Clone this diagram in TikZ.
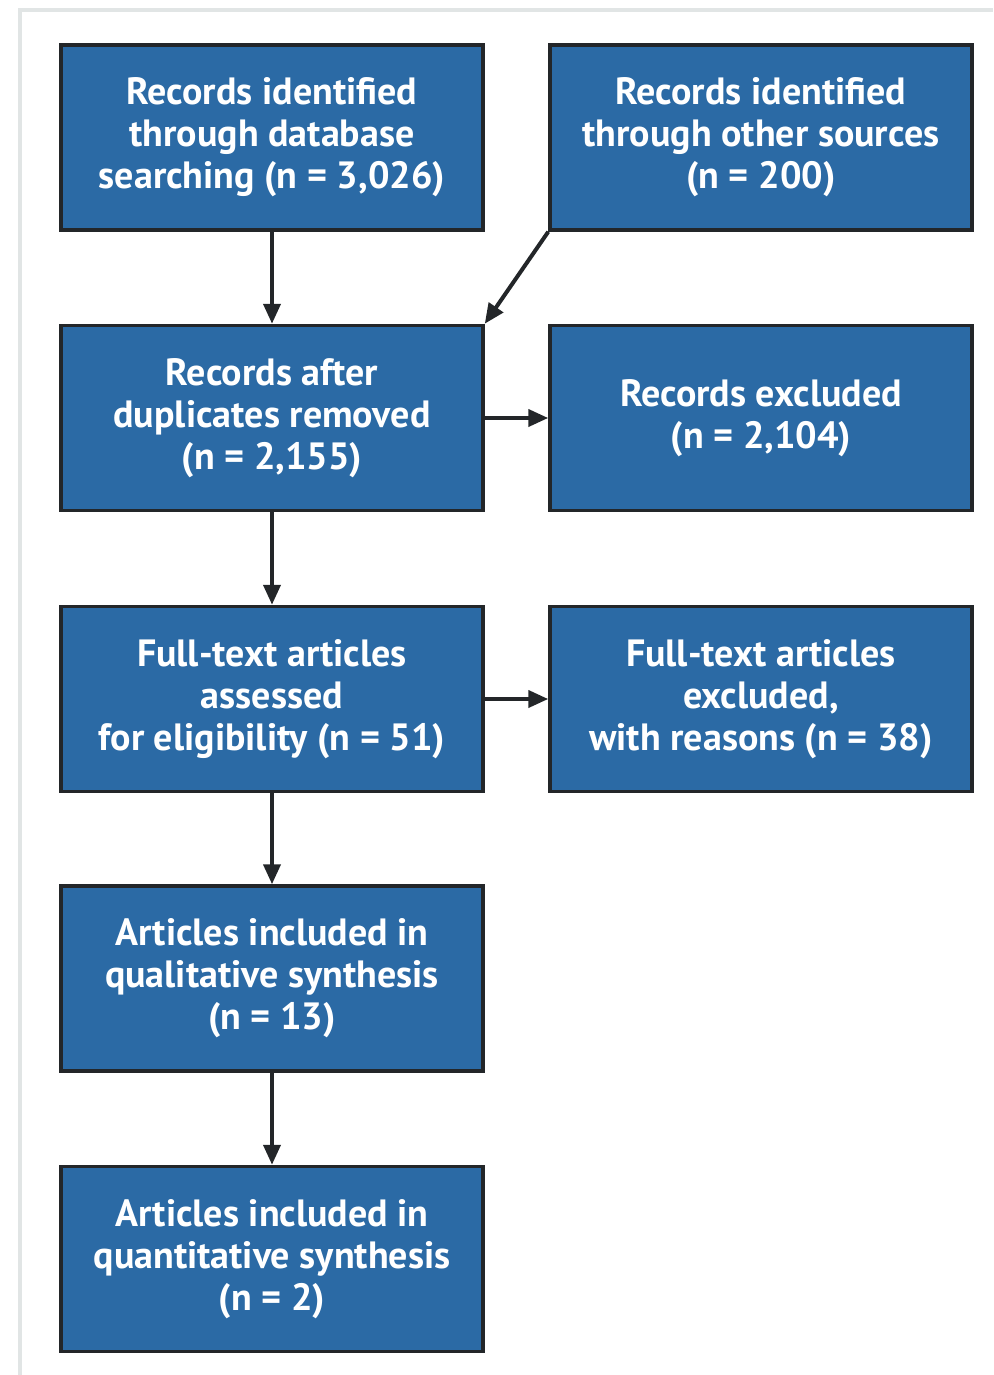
\documentclass[tikz,border=0pt]{standalone}
\usepackage{fontspec}
\setmainfont{PT Sans}
\usetikzlibrary{arrows.meta}
\definecolor{boxblue}{HTML}{2B6AA5}
\definecolor{boxedge}{HTML}{232629}
\definecolor{framegray}{HTML}{E1E5E5}
\tikzset{
  flowbox/.style={draw=boxedge, line width=3.5pt, fill=boxblue, text=white,
    minimum width=422pt, minimum height=185pt, align=center, inner sep=0pt,
    font=\fontsize{38}{42}\selectfont\bfseries},
  flowarrow/.style={draw=boxedge, line width=4pt, -{Triangle[length=20pt,width=17pt]}}
}
\begin{document}
\begin{tikzpicture}[x=1pt,y=-1pt]
\useasboundingbox (0,0) rectangle (993,1375);
\draw[framegray, line width=4pt] (20,1375) -- (20,10) -- (993,10);
\node[flowbox] (b1) at (272,137.5) {Records identified\\through database\\searching (n = 3,026)};
\node[flowbox] (b2) at (761,137.5) {Records identified\\through other sources\\(n = 200)};
\node[flowbox] (b3) at (272,418) {Records after\\duplicates removed\\(n = 2,155)};
\node[flowbox] (b4) at (761,418) {Records excluded\\(n = 2,104)};
\node[flowbox] (b5) at (272,699) {Full-text articles\\assessed\\for eligibility (n = 51)};
\node[flowbox] (b6) at (761,699) {Full-text articles\\excluded,\\with reasons (n = 38)};
\node[flowbox] (b7) at (272,978.5) {Articles included in\\qualitative synthesis\\(n = 13)};
\node[flowbox] (b8) at (272,1259) {Articles included in\\quantitative synthesis\\(n = 2)};
\draw[flowarrow] (b1.south) -- (b3.north);
\draw[flowarrow] (b2.south west) -- (b3.north east);
\draw[flowarrow] (b3.east) -- (b4.west);
\draw[flowarrow] (b3.south) -- (b5.north);
\draw[flowarrow] (b5.east) -- (b6.west);
\draw[flowarrow] (b5.south) -- (b7.north);
\draw[flowarrow] (b7.south) -- (b8.north);
\end{tikzpicture}
\end{document}
